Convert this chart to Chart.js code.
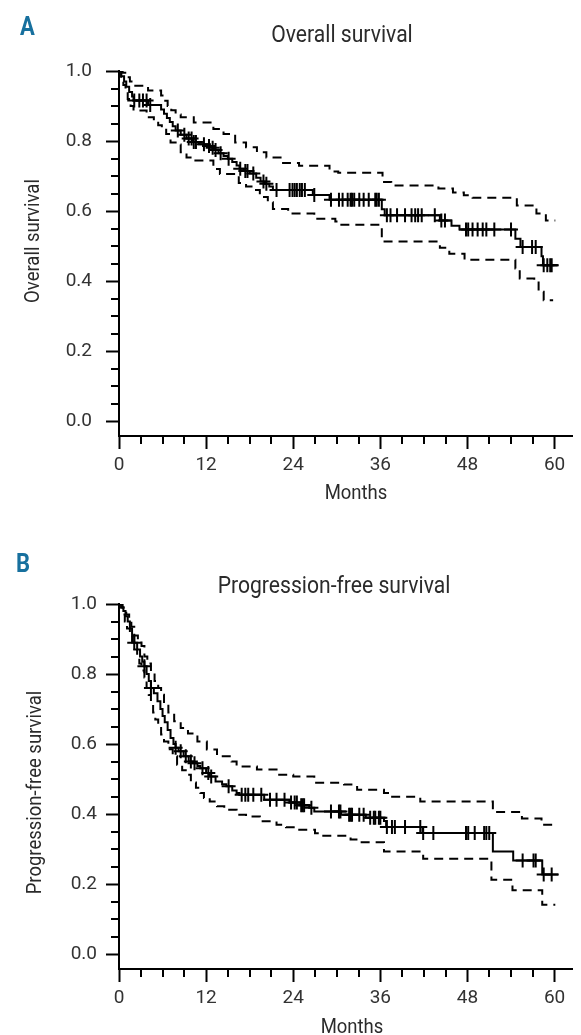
<!DOCTYPE html>
<html>
<head>
<meta charset="utf-8">
<script src="https://cdn.jsdelivr.net/npm/chart.js"></script>
<style>
  body { margin: 0; background: #fff; }
  canvas { position: absolute; left: 0; }
  #os { top: 0; }
  #pfs { top: 517px; }
</style>
</head>
<body>
<canvas id="os" width="581" height="517"></canvas>
<canvas id="pfs" width="581" height="518"></canvas>
<script>
// axis ticks (months / survival probability)
const xTicks = [0, 12, 24, 36, 48, 60];
const xMinorTicks = [3, 6, 9, 15, 18, 21, 27, 30, 33, 39, 42, 45, 51, 54, 57];
const yTicks = [0, 0.2, 0.4, 0.6, 0.8, 1.0];
const yMinorTicks = [0.05, 0.1, 0.15, 0.25, 0.3, 0.35, 0.45, 0.5, 0.55, 0.65, 0.7, 0.75, 0.85, 0.9, 0.95];

// A - overall survival, Kaplan-Meier estimate
const osTime = [0, 0.3, 0.7, 1.0, 1.4, 1.8, 2.0, 4.0, 5.8, 6.2, 6.6, 7.0, 7.4, 7.8, 8.5, 9.3, 10.2, 11.0, 12.2, 12.7, 13.1, 13.7, 14.4, 15.0, 15.6, 16.2, 16.6, 17.2, 18.0, 18.9, 19.5, 20.1, 20.7, 21.2, 26.7, 29.0, 36.2, 36.6, 44.2, 45.8, 46.9, 54.6, 55.3, 58.2, 58.4, 60.5];
const osSurv = [1, 0.985, 0.97, 0.955, 0.94, 0.927, 0.916, 0.903, 0.89, 0.878, 0.866, 0.854, 0.842, 0.83, 0.818, 0.807, 0.797, 0.791, 0.786, 0.781, 0.774, 0.765, 0.757, 0.749, 0.74, 0.73, 0.721, 0.714, 0.707, 0.695, 0.684, 0.678, 0.67, 0.66, 0.646, 0.632, 0.605, 0.588, 0.573, 0.558, 0.547, 0.521, 0.497, 0.471, 0.445, 0.445];
const osUpTime = [0, 0.5, 1.0, 1.5, 1.9, 4.0, 5.8, 6.2, 6.7, 7.2, 7.8, 8.5, 10.3, 13.0, 14.4, 16.0, 17.5, 19.0, 20.3, 22.6, 24.8, 29.0, 30.2, 36.3, 37.5, 44.0, 46.0, 47.5, 48.7, 54.8, 57.5, 58.8, 60.1];
const osUp = [1, 0.995, 0.982, 0.97, 0.958, 0.944, 0.93, 0.915, 0.9, 0.888, 0.876, 0.868, 0.853, 0.834, 0.82, 0.796, 0.782, 0.768, 0.753, 0.737, 0.729, 0.713, 0.709, 0.683, 0.673, 0.664, 0.653, 0.645, 0.638, 0.616, 0.593, 0.573, 0.573];
const osLoTime = [0, 0.3, 0.6, 0.9, 1.2, 1.6, 2.0, 3.8, 4.8, 5.4, 5.9, 6.5, 7.1, 7.8, 8.5, 9.3, 10.3, 13.0, 13.9, 16.5, 17.5, 18.5, 19.4, 20.5, 21.2, 23.3, 26.9, 29.8, 30.2, 36.2, 44.2, 45.5, 47.6, 54.6, 55.2, 57.2, 57.8, 58.5, 59.8];
const osLo = [1, 0.98, 0.96, 0.94, 0.92, 0.9, 0.887, 0.868, 0.859, 0.845, 0.836, 0.82, 0.796, 0.79, 0.768, 0.753, 0.744, 0.72, 0.706, 0.68, 0.67, 0.66, 0.64, 0.625, 0.606, 0.593, 0.578, 0.57, 0.561, 0.513, 0.495, 0.478, 0.461, 0.436, 0.407, 0.4, 0.369, 0.345, 0.345];
const osCensTime = [2.1, 2.8, 3.3, 3.8, 4.3, 8.1, 9.0, 9.6, 10.0, 10.3, 10.6, 11.7, 12.4, 12.9, 13.3, 14.0, 15.1, 16.7, 17.4, 17.7, 18.5, 19.9, 20.3, 21.7, 23.5, 23.9, 24.2, 24.5, 24.9, 25.2, 25.6, 26.9, 29.2, 30.3, 30.8, 31.5, 31.9, 32.1, 32.4, 33.1, 33.7, 34.4, 35.3, 35.5, 35.8, 36.9, 37.4, 38.3, 39.4, 40.3, 40.8, 41.2, 41.7, 43.5, 44.4, 44.9, 47.8, 48.1, 48.7, 49.4, 50.1, 50.6, 51.7, 54.0, 55.6, 56.9, 57.4, 58.5, 59.0, 59.4, 59.6];
const osCensSurv = [0.916, 0.916, 0.916, 0.916, 0.903, 0.83, 0.818, 0.807, 0.807, 0.797, 0.797, 0.791, 0.786, 0.781, 0.774, 0.765, 0.749, 0.721, 0.714, 0.714, 0.707, 0.684, 0.678, 0.66, 0.66, 0.66, 0.66, 0.66, 0.66, 0.66, 0.66, 0.646, 0.632, 0.632, 0.632, 0.632, 0.632, 0.632, 0.632, 0.632, 0.632, 0.632, 0.632, 0.632, 0.632, 0.588, 0.588, 0.588, 0.588, 0.588, 0.588, 0.588, 0.588, 0.588, 0.573, 0.573, 0.547, 0.547, 0.547, 0.547, 0.547, 0.547, 0.547, 0.547, 0.497, 0.497, 0.497, 0.445, 0.445, 0.445, 0.445];

// B - progression-free survival
const pfsTime = [0, 0.3, 0.6, 0.9, 1.2, 1.5, 1.8, 2.1, 2.5, 2.9, 3.2, 3.5, 3.8, 4.1, 4.4, 4.8, 5.3, 5.7, 6.0, 6.3, 6.7, 7.1, 7.5, 7.8, 8.2, 8.9, 9.6, 10.2, 10.8, 11.2, 12.0, 12.5, 13.3, 14.2, 14.8, 15.6, 16.2, 16.6, 20.0, 23.5, 25.0, 26.2, 26.9, 30.6, 34.0, 36.5, 36.8, 41.8, 51.5, 54.3, 58.3, 60.5];
const pfsSurv = [1, 0.99, 0.98, 0.965, 0.95, 0.93, 0.91, 0.889, 0.87, 0.85, 0.835, 0.822, 0.8, 0.78, 0.76, 0.745, 0.722, 0.7, 0.68, 0.662, 0.64, 0.617, 0.6, 0.589, 0.579, 0.565, 0.55, 0.545, 0.537, 0.531, 0.517, 0.507, 0.493, 0.485, 0.479, 0.467, 0.46, 0.455, 0.441, 0.433, 0.425, 0.418, 0.407, 0.398, 0.389, 0.38, 0.363, 0.346, 0.293, 0.267, 0.227, 0.227];
const pfsUpTime = [0, 0.5, 1.0, 1.4, 1.7, 2.1, 2.6, 3.1, 3.5, 3.9, 4.4, 4.9, 5.4, 5.8, 6.2, 6.8, 7.6, 8.5, 9.5, 10.8, 12.1, 13.5, 15.5, 16.2, 19.0, 21.7, 24.0, 26.9, 31.0, 32.8, 36.5, 37.4, 41.5, 51.5, 55.5, 58.2, 60.1];
const pfsUp = [1, 0.99, 0.97, 0.95, 0.935, 0.91, 0.895, 0.88, 0.85, 0.83, 0.807, 0.78, 0.76, 0.741, 0.715, 0.69, 0.665, 0.646, 0.63, 0.607, 0.584, 0.565, 0.55, 0.536, 0.527, 0.512, 0.507, 0.489, 0.484, 0.469, 0.46, 0.449, 0.436, 0.406, 0.387, 0.369, 0.369];
const pfsLoTime = [0, 0.3, 0.6, 0.8, 1.1, 1.5, 1.8, 2.1, 2.5, 2.8, 3.1, 3.5, 3.8, 4.1, 4.4, 4.7, 5.0, 5.4, 5.8, 6.2, 6.8, 7.4, 8.0, 8.7, 9.4, 9.9, 10.6, 11.2, 11.7, 12.5, 13.5, 14.5, 16.2, 17.5, 19.4, 21.7, 23.0, 24.5, 27.0, 27.8, 31.9, 33.0, 36.5, 41.9, 51.3, 54.2, 58.3, 60.1];
const pfsLo = [1, 0.99, 0.97, 0.95, 0.93, 0.91, 0.89, 0.87, 0.85, 0.83, 0.81, 0.79, 0.76, 0.74, 0.715, 0.69, 0.67, 0.65, 0.627, 0.607, 0.585, 0.565, 0.541, 0.525, 0.512, 0.49, 0.475, 0.46, 0.446, 0.436, 0.422, 0.412, 0.398, 0.393, 0.379, 0.369, 0.362, 0.355, 0.345, 0.338, 0.327, 0.319, 0.293, 0.272, 0.212, 0.182, 0.141, 0.141];
const pfsCensTime = [2.1, 3.5, 4.4, 7.8, 8.5, 9.2, 9.9, 10.4, 11.5, 12.3, 12.7, 15.1, 16.9, 17.4, 17.8, 18.5, 19.6, 20.8, 21.7, 22.8, 23.7, 24.2, 24.5, 25.1, 25.3, 25.5, 26.5, 29.2, 30.3, 30.5, 31.7, 31.9, 32.1, 33.1, 33.7, 34.6, 35.1, 35.3, 35.8, 36.0, 36.9, 37.6, 38.0, 39.4, 41.5, 41.9, 43.3, 47.8, 48.1, 49.0, 50.3, 50.6, 51.0, 55.6, 57.1, 57.4, 58.5, 59.6];
const pfsCensSurv = [0.889, 0.822, 0.76, 0.589, 0.579, 0.565, 0.55, 0.545, 0.531, 0.517, 0.507, 0.479, 0.455, 0.455, 0.455, 0.455, 0.455, 0.441, 0.441, 0.441, 0.433, 0.433, 0.433, 0.425, 0.425, 0.425, 0.418, 0.407, 0.407, 0.407, 0.398, 0.398, 0.398, 0.398, 0.398, 0.389, 0.389, 0.389, 0.389, 0.389, 0.363, 0.363, 0.363, 0.363, 0.363, 0.346, 0.346, 0.346, 0.346, 0.346, 0.346, 0.346, 0.346, 0.267, 0.267, 0.267, 0.227, 0.227];

Chart.defaults.font.family = 'Roboto, "Liberation Sans", sans-serif';

const pts = (ts, vs) => ts.map((t, i) => ({ x: t, y: vs[i] }));

// short minor tick marks on both axes
const minorTicks = {
  id: 'minorTicks',
  afterDraw(chart) {
    const { ctx, scales: { x, y } } = chart;
    ctx.save();
    ctx.strokeStyle = '#000';
    ctx.lineWidth = 2;
    ctx.beginPath();
    xMinorTicks.forEach(v => {
      const px = Math.round(x.getPixelForValue(v));
      ctx.moveTo(px, x.top);
      ctx.lineTo(px, x.top + 8);
    });
    yMinorTicks.forEach(v => {
      const py = Math.round(y.getPixelForValue(v));
      ctx.moveTo(y.right - 8, py);
      ctx.lineTo(y.right, py);
    });
    ctx.stroke();
    ctx.restore();
  }
};

// panel letter, title and axis titles (condensed look)
const panelText = {
  id: 'panelText',
  afterDraw(chart, args, o) {
    const ctx = chart.ctx;
    const put = (text, x, y, font, color, align, rot) => {
      ctx.save();
      ctx.translate(x, y);
      if (rot) ctx.rotate(rot);
      ctx.scale(0.88, 1);
      ctx.font = font;
      ctx.fillStyle = color;
      ctx.textAlign = align;
      ctx.textBaseline = 'alphabetic';
      ctx.fillText(text, 0, 0);
      ctx.restore();
    };
    put(o.letter, o.letterPos[0], o.letterPos[1], 'bold 25px Roboto', '#17709e', 'left');
    put(o.title, o.titlePos[0], o.titlePos[1], '24px Roboto', '#2b2b2b', 'center');
    put(o.xTitle, o.xTitlePos[0], o.xTitlePos[1], '21px Roboto', '#2b2b2b', 'center');
    put(o.yTitle, o.yTitlePos[0], o.yTitlePos[1], '21px Roboto', '#2b2b2b', 'center', -Math.PI / 2);
  }
};

function kmChart(id, d, lay) {
  const dashed = { borderColor: '#000', borderWidth: 2, borderDash: [9, 6], pointRadius: 0, stepped: true, fill: false };
  return new Chart(document.getElementById(id), {
    type: 'line',
    data: {
      datasets: [
        { ...dashed, label: 'upper', data: pts(d.upTime, d.up) },
        { ...dashed, label: 'lower', data: pts(d.loTime, d.lo) },
        { label: 'estimate', data: pts(d.time, d.surv), borderColor: '#000', borderWidth: 2, pointRadius: 0, stepped: true, fill: false },
        { label: 'censored', data: pts(d.censTime, d.censSurv), showLine: false, pointStyle: 'cross', pointRadius: 7, pointBorderWidth: 2, pointBorderColor: '#000' }
      ]
    },
    options: {
      responsive: false,
      animation: false,
      devicePixelRatio: 1,
      events: [],
      layout: { padding: { top: lay.top, right: 4, left: 0, bottom: 0 } },
      plugins: { legend: { display: false }, tooltip: { enabled: false }, panelText: lay.text },
      scales: {
        x: {
          type: 'linear', min: 0, max: 62.4,
          afterBuildTicks: s => { s.ticks = xTicks.map(v => ({ value: v })); },
          afterFit: s => { s.height = lay.xHeight; },
          grid: { drawOnChartArea: false, tickLength: 13, tickWidth: 2, tickColor: '#000' },
          border: { display: true, color: '#000', width: 2 },
          ticks: { color: '#333', font: { size: 19 }, padding: 5, maxRotation: 0 }
        },
        y: {
          min: -0.042857, max: 1,
          afterBuildTicks: s => { s.ticks = yTicks.map(v => ({ value: v })); },
          afterFit: s => { s.width = 119; },
          grid: { drawOnChartArea: false, tickLength: 13, tickWidth: 2, tickColor: '#000' },
          border: { display: true, color: '#000', width: 2 },
          ticks: { color: '#333', font: { size: 19 }, padding: lay.yPad, callback: v => v.toFixed(1) }
        }
      }
    },
    plugins: [minorTicks, panelText]
  });
}

kmChart('os', {
  time: osTime, surv: osSurv, upTime: osUpTime, up: osUp, loTime: osLoTime, lo: osLo,
  censTime: osCensTime, censSurv: osCensSurv
}, {
  top: 71, xHeight: 81, yPad: 14,
  text: {
    letter: 'A', letterPos: [20, 35],
    title: 'Overall survival', titlePos: [342, 42],
    xTitle: 'Months', xTitlePos: [356, 499],
    yTitle: 'Overall survival', yTitlePos: [39, 241]
  }
});

kmChart('pfs', {
  time: pfsTime, surv: pfsSurv, upTime: pfsUpTime, up: pfsUp, loTime: pfsLoTime, lo: pfsLo,
  censTime: pfsCensTime, censSurv: pfsCensSurv
}, {
  top: 87, xHeight: 66, yPad: 9,
  text: {
    letter: 'B', letterPos: [16, 55],
    title: 'Progression-free survival', titlePos: [334, 75.5],
    xTitle: 'Months', xTitlePos: [352, 515.5],
    yTitle: 'Progression-free survival', yTitlePos: [41, 275.5]
  }
});
</script>
</body>
</html>
